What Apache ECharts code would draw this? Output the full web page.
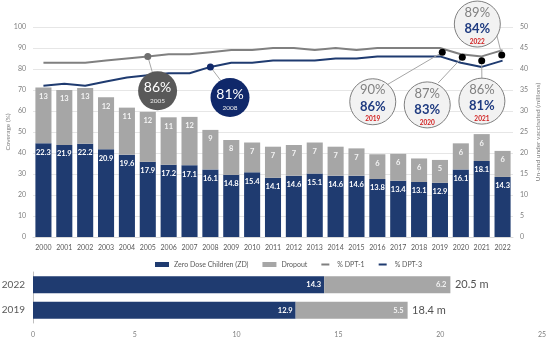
<!DOCTYPE html>
<html>
<head>
<meta charset="utf-8">
<script src="https://cdn.jsdelivr.net/npm/echarts@6/dist/echarts.min.js"></script>
<style>html,body{margin:0;padding:0;background:#fff}#c{width:550px;height:343px}</style>
</head>
<body>
<div id="c"></div>
<script>
// ---- data ----
const years = ['2000','2001','2002','2003','2004','2005','2006','2007','2008','2009','2010','2011','2012','2013','2014','2015','2016','2017','2018','2019','2020','2021','2022'];
const zeroDose = [22.3,21.9,22.2,20.9,19.6,17.9,17.2,17.1,16.1,14.8,15.4,14.1,14.6,15.1,14.6,14.6,13.8,13.4,13.1,12.9,16.1,18.1,14.3];
const dropout = [13.3,13.1,13.3,12.4,11.2,11.9,11.3,11.5,9.4,8.3,7.1,7.4,7.3,7.4,6.9,6.5,5.9,6.4,5.6,5.45,6.2,6.4,6.2];
const dpt1 = [83,83,83,84,85,86,87,87,88,89,89,90,90,89,90,89,90,90,90,90,87,86,89];
const dpt3 = [72,73,72,74,76,77,78,78,81,83,83,84,84,84,85,85,86,86,86,86,83,81,84];
const cmpYears = ['2019','2022'];
const cmpZeroDose = [12.9,14.3];
const cmpDropout = [5.5,6.2];

// ---- callout placement (annotation layout, x in category-index units, y in coverage %) ----
const darkCallouts = [
  {idx:5, series:'dpt1', pos:[5.47,69.6], to:[5.22,78.4], color:'#595959', marker:'#6f6f6f'},
  {idx:8, series:'dpt3', pos:[8.94,66.4], to:[8.54,73.95], color:'#10286a', marker:'#10286a'}
];
const lightCallouts = [
  {idx:19, pos:[15.78,64.4], dot:[19.11,87.95], to:[16.45,72.4]},
  {idx:20, pos:[18.39,62.9], dot:[20.07,85.6], to:[18.91,73.3]},
  {idx:21, pos:[21.01,64.7], dot:[21.0,83.95], to:[21.01,74.3]},
  {idx:22, pos:[20.79,101.4], dot:[21.96,86.7], to:[21.72,96.2]}
];

const NAVY = '#1f3b70';
const GREY = '#a6a6a6';
const LGREY = '#808080';
const FONT = 'Lato';
const LINE_ICON = 'path://M0,0h0.1v0.1h-0.1z M0,3h16v4h-16z M0,9.9h0.1v0.1h-0.1z';

const chart = echarts.init(document.getElementById('c'), null, {renderer:'canvas'});

const valOf = c => (c.series === 'dpt1' ? dpt1[c.idx] : dpt3[c.idx]);
const connectors = [];
darkCallouts.forEach(c => connectors.push({coords:[[c.idx, valOf(c)], c.to]}));
lightCallouts.forEach(c => connectors.push({coords:[c.dot, c.to]}));

const option = {
  animation: false,
  textStyle: {fontFamily: FONT},
  legend: {
    top: 256, left: 150, itemWidth: 14, itemHeight: 5, itemGap: 14,
    textStyle: {fontSize: 7, color: '#595959', fontFamily: FONT},
    data: [
      {name:'Zero Dose Children (ZD)', icon:'rect'},
      {name:'Dropout', icon:'rect'},
      {name:'% DPT-1', icon:LINE_ICON},
      {name:'% DPT-3', icon:LINE_ICON}
    ]
  },
  grid: [
    {left:33, right:37, top:27, bottom:106, outerBoundsMode:'none'},
    {left:33, right:8, top:272, bottom:20, outerBoundsMode:'none'}
  ],
  xAxis: [
    {type:'category', gridIndex:0, data:years,
      axisLine:{lineStyle:{color:'#d9d9d9'}}, axisTick:{show:false},
      axisLabel:{color:'#595959', fontSize:7, margin:7, interval:0}},
    {type:'value', gridIndex:0, min:-0.5, max:22.5, show:false},
    {type:'value', gridIndex:1, min:0, max:25, interval:5,
      axisLine:{show:false}, axisTick:{show:false}, splitLine:{show:false},
      axisLabel:{color:'#7f7f7f', fontSize:7, margin:8}}
  ],
  yAxis: [
    {type:'value', gridIndex:0, min:0, max:100, interval:10,
      name:'Coverage (%)', nameLocation:'middle', nameGap:22, nameMoveOverlap:false,
      nameTextStyle:{fontSize:6.5, color:'#7f7f7f'},
      axisLabel:{fontSize:7, color:'#7f7f7f', margin:7},
      splitLine:{lineStyle:{color:'#e6e6e6'}}, axisLine:{show:false}, axisTick:{show:false}},
    {type:'value', gridIndex:0, position:'right', min:0, max:50, interval:5,
      name:'Un-and under vaccinated (millions)', nameLocation:'middle', nameGap:21, nameMoveOverlap:false,
      nameTextStyle:{fontSize:6.5, color:'#7f7f7f'},
      axisLabel:{fontSize:7, color:'#7f7f7f', margin:7},
      splitLine:{show:false}, axisLine:{show:false}, axisTick:{show:false}},
    {type:'category', gridIndex:1, data:cmpYears,
      axisLine:{lineStyle:{color:'#bfbfbf'}}, axisTick:{show:false},
      axisLabel:{fontSize:10, color:'#595959', margin:8}}
  ],
  series: [
    {name:'Zero Dose Children (ZD)', type:'bar', stack:'t', xAxisIndex:0, yAxisIndex:1,
      data:zeroDose, barCategoryGap:'23%', itemStyle:{color:NAVY},
      label:{show:true, position:'insideTop', distance:5, color:'#fff', fontSize:7.5, fontWeight:'bold'}},
    {name:'Dropout', type:'bar', stack:'t', xAxisIndex:0, yAxisIndex:1,
      data:dropout, itemStyle:{color:GREY},
      label:{show:true, position:'insideTop', distance:5, color:'#f4f4f4', fontSize:7.5, fontWeight:'bold',
        formatter: p => Math.round(p.value)}},
    {name:'% DPT-1', type:'line', xAxisIndex:0, yAxisIndex:0, symbol:'none', showSymbol:false, z:3,
      data: dpt1, lineStyle:{color:LGREY, width:2}, itemStyle:{color:LGREY}},
    {name:'% DPT-3', type:'line', xAxisIndex:0, yAxisIndex:0, symbol:'none', showSymbol:false, z:3,
      data: dpt3, lineStyle:{color:NAVY, width:2}, itemStyle:{color:NAVY}},
    {name:'connectors', type:'lines', coordinateSystem:'cartesian2d', xAxisIndex:1, yAxisIndex:0,
      clip:false, silent:true, z:4, data:connectors,
      lineStyle:{color:'#a6a6a6', width:1, opacity:1}},
    {name:'markers', type:'scatter', xAxisIndex:1, yAxisIndex:0, silent:true, z:6, symbolSize:7,
      data: darkCallouts.map(c => ({value:[c.idx, valOf(c)], itemStyle:{color:c.marker, opacity:1}}))},
    {name:'darkCallouts', type:'scatter', xAxisIndex:1, yAxisIndex:0, clip:false, silent:true, z:5,
      symbolSize:39,
      data: darkCallouts.map(c => ({
        value:c.pos, itemStyle:{color:c.color, opacity:1},
        label:{formatter: '{p|' + valOf(c) + '%}\n{y|' + years[c.idx] + '}'}
      })),
      label:{show:true, position:'inside', offset:[0,2],
        rich:{p:{fontSize:14, color:'#fff', lineHeight:17, fontFamily:FONT},
              y:{fontSize:6.5, color:'#eee', lineHeight:10, fontFamily:FONT}}}},
    {name:'lightCallouts', type:'scatter', xAxisIndex:1, yAxisIndex:0, clip:false, silent:true, z:5,
      symbolSize:46, itemStyle:{color:'#f2f2f2', borderColor:'#7f7f7f', borderWidth:1, opacity:1},
      data: lightCallouts.map(c => ({
        value:c.pos,
        label:{formatter: '{a|' + dpt1[c.idx] + '%}\n{b|' + dpt3[c.idx] + '%}\n{c|' + years[c.idx] + '}'}
      })),
      label:{show:true, position:'inside', offset:[0,1],
        rich:{a:{fontSize:13, color:'#808080', lineHeight:17, fontFamily:FONT},
              b:{fontSize:13, color:'#1f3b80', fontWeight:'bold', lineHeight:16, fontFamily:FONT},
              c:{fontSize:6.5, color:'#d01c1c', fontWeight:'bold', lineHeight:9, fontFamily:FONT}}}},
    {name:'dots', type:'scatter', xAxisIndex:1, yAxisIndex:0, clip:false, silent:true, z:6,
      symbolSize:7, itemStyle:{color:'#000', opacity:1},
      data: lightCallouts.map(c => c.dot)},
    // bottom comparison
    {name:'ZD cmp', type:'bar', stack:'b', xAxisIndex:2, yAxisIndex:2, data:cmpZeroDose,
      barWidth:17, itemStyle:{color:NAVY},
      label:{show:true, position:'insideRight', distance:3, color:'#fff', fontSize:7.5, fontWeight:'bold',
        formatter: p => p.value.toFixed(1)}},
    {name:'Dropout cmp', type:'bar', stack:'b', xAxisIndex:2, yAxisIndex:2, data:cmpDropout,
      barWidth:17, itemStyle:{color:GREY},
      label:{show:true, position:'insideRight', distance:4, color:'#f4f4f4', fontSize:7.5, fontWeight:'bold',
        formatter: p => p.value.toFixed(1)}},
    {name:'Total cmp', type:'scatter', xAxisIndex:2, yAxisIndex:2, silent:true, symbolSize:1,
      itemStyle:{color:'rgba(0,0,0,0)'},
      data: cmpYears.map((y,i) => [+(cmpZeroDose[i] + cmpDropout[i]).toFixed(1), i]),
      label:{show:true, position:'right', distance:4, color:'#262626', fontSize:11,
        formatter: p => p.value[0].toFixed(1) + ' m'}}
  ]
};
chart.setOption(option);
</script>
</body>
</html>
